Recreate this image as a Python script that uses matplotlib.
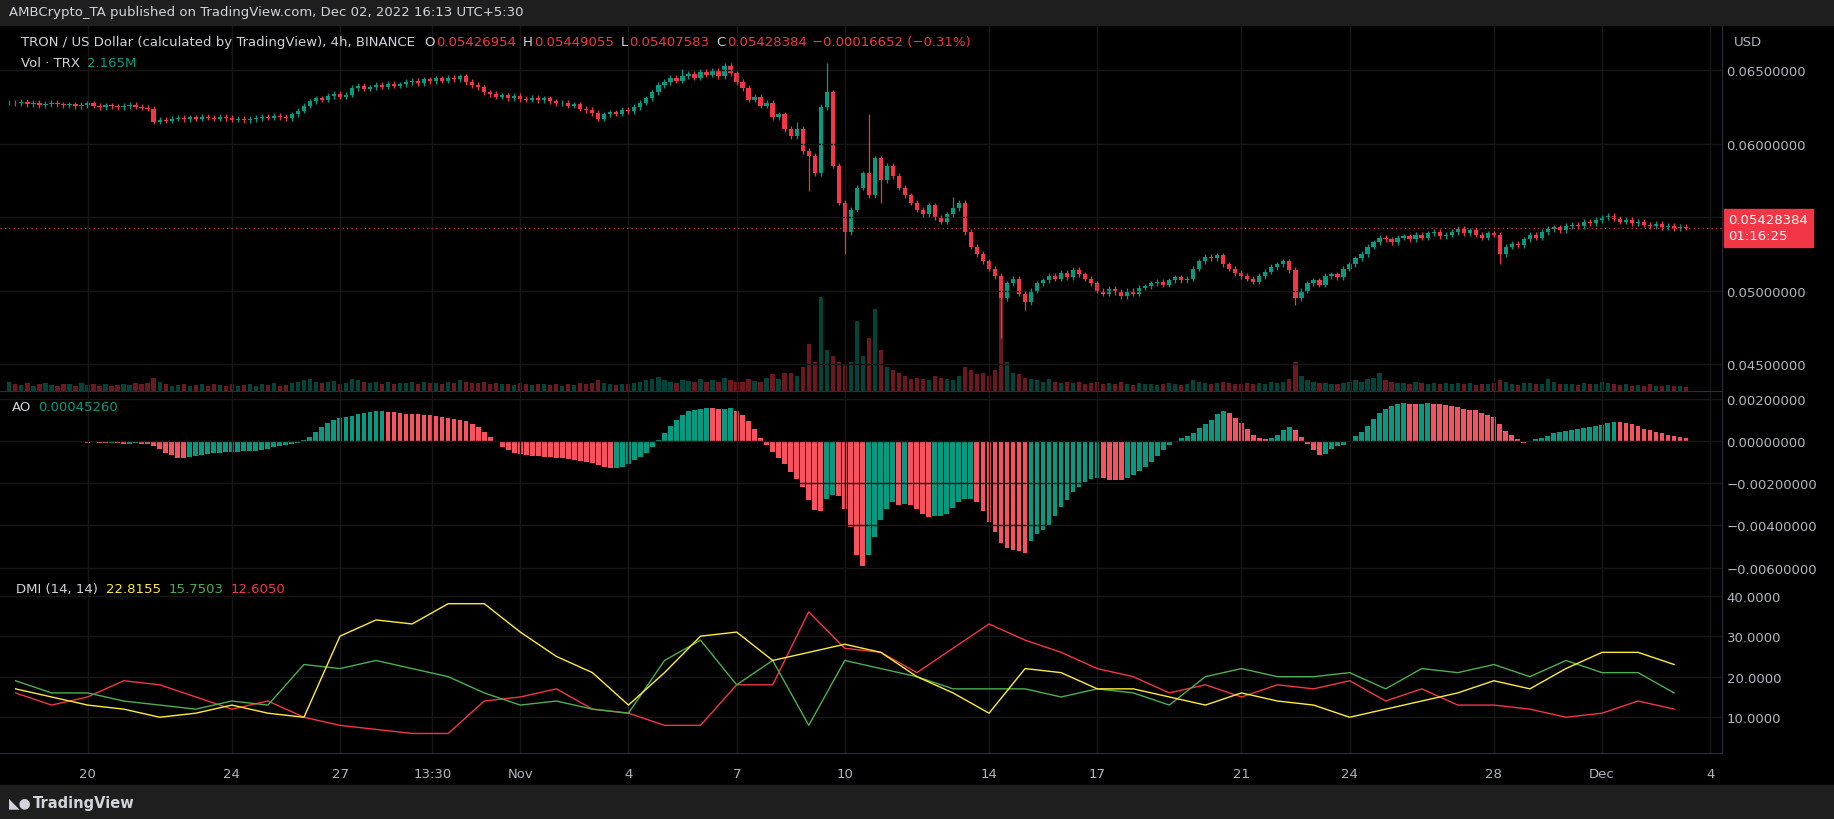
import numpy as np
import pandas as pd
import matplotlib.pyplot as plt
from matplotlib.transforms import blended_transform_factory

# ---------------------------------------------------------
# DATA (4h candles, TRX/USD)
# ---------------------------------------------------------
START_DAY = 16.83          # day offset from Oct 1 of first candle
STEP = 1 / 6               # 4h

CLOSE = [  # units of 1e-5 USD
    6280, 6275, 6285, 6270, 6278, 6265, 6272, 6280, 6268, 6262,
    6270, 6258, 6265, 6275, 6260, 6250, 6262, 6255, 6248, 6258,
    6265, 6252, 6245, 6238,
    6150, 6165, 6158, 6170, 6175, 6168,
    6180, 6172, 6185, 6178, 6170, 6182, 6176, 6165, 6172, 6160,
    6168, 6175, 6185, 6178, 6190, 6182, 6175, 6200, 6225, 6260,
    6290, 6310, 6300, 6325, 6340, 6320, 6335, 6380, 6395, 6375,
    6385, 6400, 6390, 6410, 6395, 6405, 6420, 6430, 6415, 6440,
    6425, 6445, 6430, 6450, 6438, 6460, 6420, 6400, 6385, 6350,
    6340, 6320, 6330, 6310, 6325, 6305, 6300, 6315, 6295, 6310,
    6290, 6275, 6280, 6260, 6270, 6240, 6230, 6210, 6170, 6200,
    6215, 6205, 6230, 6220, 6250, 6280, 6310, 6350, 6400, 6420,
    6450, 6430, 6460, 6475, 6450, 6490, 6470, 6500, 6460, 6530,
    6480, 6420, 6380, 6300, 6320, 6260, 6280, 6180, 6200, 6100,
    6050, 6100, 5950, 5920, 5800, 6250, 6350, 5850, 5600, 5400,
    5550, 5700, 5800, 5650, 5900, 5750, 5850, 5780, 5700, 5650,
    5600, 5550, 5520, 5580, 5500, 5470, 5520, 5560, 5600, 5400,
    5300, 5250, 5200, 5150, 5100, 4950, 5050, 5080, 4980, 4920,
    5000, 5050, 5070, 5100, 5080, 5120, 5090, 5140, 5110, 5080,
    5050, 5000, 4980, 5010, 4990, 4960, 5000, 4980, 5020, 5030,
    5050, 5060, 5040, 5070, 5090, 5070, 5080, 5150, 5200, 5230,
    5220, 5240, 5180, 5150, 5120, 5100, 5080, 5060, 5100, 5130,
    5160, 5180, 5200, 5140, 4950, 5000, 5050, 5070, 5040, 5100,
    5110, 5090, 5150, 5180, 5220, 5250, 5300, 5330, 5360, 5350,
    5330, 5360, 5370, 5350, 5380, 5360, 5390, 5400, 5370, 5380,
    5400, 5420, 5390, 5410, 5380, 5360, 5390, 5380, 5250, 5300,
    5320, 5310, 5350, 5380, 5360, 5400, 5420, 5430, 5410, 5440,
    5450, 5440, 5470, 5460, 5480, 5500, 5510, 5490, 5470, 5480,
    5460, 5470, 5450, 5440, 5455, 5430, 5440, 5425, 5435, 5428,
]
HIGH_SPIKES = {119: 6550, 136: 6550, 143: 6200, 112: 6510, 131: 6150, 157: 5640}
LOW_SPIKES = {133: 5680, 139: 5250, 165: 4680, 214: 4900, 248: 5180, 169: 4870, 145: 5600}
WICK = 18

VOLUME = [
    1.5, 1.2, 1.0, 1.3, 0.9, 1.1, 1.4, 1.0, 0.8, 1.2, 1.1, 0.9, 1.3, 1.0, 1.2, 0.8, 1.1, 0.9, 1.0, 1.2,
    1.0, 1.3, 1.1, 1.4, 2.2, 1.5, 1.1, 0.9, 1.0, 1.2, 0.8, 1.0, 1.1, 0.9, 1.2, 1.0, 0.8, 1.1, 0.9, 1.0,
    1.1, 0.9, 1.2, 1.0, 1.3, 0.9, 1.0, 1.4, 1.6, 1.8, 2.0, 1.5, 1.3, 1.6, 1.7, 1.2, 1.4, 2.0, 1.8, 1.5,
    1.3, 1.6, 1.2, 1.5, 1.1, 1.3, 1.4, 1.6, 1.2, 1.5, 1.3, 1.4, 1.2, 1.6, 1.3, 1.8, 1.6, 1.4, 1.3, 1.5,
    1.2, 1.3, 1.1, 1.2, 1.0, 1.3, 1.1, 1.0, 1.2, 1.1, 1.0, 1.2, 0.9, 1.1, 1.0, 1.3, 1.2, 1.4, 1.8, 1.3,
    1.1, 1.0, 1.2, 1.1, 1.4, 1.6, 1.8, 2.0, 2.4, 1.8, 1.6, 1.4, 1.9, 1.7, 1.5, 2.0, 1.6, 1.8, 1.5, 2.2,
    1.8, 1.6, 1.5, 2.0, 1.7, 1.6, 2.2, 2.8, 2.0, 3.0, 3.0, 2.5, 4.0, 8.0, 5.0, 16.0, 7.0, 6.0, 5.0, 4.5,
    5.0, 12.0, 6.0, 9.0, 14.0, 7.0, 4.0, 3.5, 3.0, 2.5, 2.0, 2.2, 2.0, 1.8, 2.5, 2.2, 2.0, 1.8, 2.5, 4.0,
    3.5, 2.8, 3.0, 2.5, 3.5, 16.0, 5.0, 3.0, 2.8, 2.2, 2.0, 1.8, 1.6, 2.0, 1.5, 1.4, 1.6, 1.3, 1.5, 1.2,
    1.4, 1.5, 1.2, 1.3, 1.1, 1.5, 1.2, 1.0, 1.3, 1.1, 1.2, 1.0, 1.1, 1.3, 1.2, 1.0, 1.1, 1.8, 1.6, 1.4,
    1.2, 1.3, 1.5, 1.3, 1.2, 1.1, 1.4, 1.2, 1.3, 1.1, 1.5, 1.3, 1.6, 2.0, 5.0, 2.5, 1.8, 1.5, 1.3, 1.4,
    1.2, 1.1, 1.4, 1.6, 1.8, 1.5, 2.0, 2.2, 3.0, 1.8, 1.5, 1.3, 1.4, 1.2, 1.5, 1.3, 1.2, 1.4, 1.1, 1.3,
    1.2, 1.4, 1.1, 1.3, 1.0, 1.2, 1.1, 1.3, 1.8, 1.5, 1.2, 1.0, 1.3, 1.4, 1.1, 1.2, 2.0, 1.5, 1.2, 1.1,
    1.2, 1.0, 1.3, 1.1, 1.2, 1.6, 1.4, 1.1, 1.0, 1.2, 0.9, 1.0, 0.8, 1.1, 0.9, 0.8, 1.0, 0.9, 0.8, 0.7,
]

# DMI, sampled once a day from Oct 18 (day 17) to Dec 3 (day 63)
DMI_START, DMI_END = 17, 63
ADX = [17, 15, 13, 12, 10, 11, 13, 11, 10, 30, 34, 33, 38, 38, 31, 25, 21, 13, 21, 30,
       31, 24, 26, 28, 26, 20, 16, 11, 22, 21, 17, 17, 15, 13, 16, 14, 13, 10, 12, 14,
       16, 19, 17, 22, 26, 26, 23]
PDI = [19, 16, 16, 14, 13, 12, 14, 13, 23, 22, 24, 22, 20, 16, 13, 14, 12, 11, 24, 29,
       18, 24, 8, 24, 22, 20, 17, 17, 17, 15, 17, 16, 13, 20, 22, 20, 20, 21, 17, 22,
       21, 23, 20, 24, 21, 21, 16]
MDI = [16, 13, 15, 19, 18, 15, 12, 14, 10, 8, 7, 6, 6, 14, 15, 17, 12, 11, 8, 8,
       18, 18, 36, 27, 26, 21, 27, 33, 29, 26, 22, 20, 16, 18, 15, 18, 17, 19, 14, 17,
       13, 13, 12, 10, 11, 14, 12]

TICK_DAYS = [19, 23, 26, 28.5625, 31, 34, 37, 40, 44, 47, 51, 54, 58, 61, 64]
TICK_LABELS = ["20", "24", "27", "13:30", "Nov", "4", "7", "10", "14", "17", "21", "24", "28", "Dec", "4"]

# ---------------------------------------------------------
# STYLE
# ---------------------------------------------------------
BG = "#000000"
GRID = "#161616"
TXT = "#b2b5be"
WHITE = "#d1d4dc"
UP = "#089981"
DN = "#f23645"
W, H = 1568, 701  # layout reference size
FS = 9.5


def fx(p):
    return p / W


def fy(p):
    return 1 - p / H


def style_axis(ax):
    ax.set_facecolor(BG)
    ax.yaxis.tick_right()
    ax.tick_params(colors=TXT, length=0, labelsize=FS)
    ax.grid(True, color=GRID, linewidth=1)
    for s in ax.spines.values():
        s.set_visible(False)
    ax.spines["right"].set_visible(True)
    ax.spines["right"].set_color("#2a2e39")
    ax.spines["bottom"].set_visible(True)
    ax.spines["bottom"].set_color("#2a2e39")
    ax.set_xlim(16.57, 64.32)
    ax.set_xticks(TICK_DAYS)


fig = plt.figure(figsize=(18.34, 8.2), dpi=100, facecolor=BG)

close = np.array(CLOSE) / 1e5
n = len(close)
x = START_DAY + np.arange(n) * STEP
opn = np.concatenate([[close[0]], close[:-1]])
top = np.maximum(opn, close)
bot = np.minimum(opn, close)
high = top + WICK / 1e5
low = bot - WICK / 1e5
for i, v in HIGH_SPIKES.items():
    high[i] = v / 1e5
for i, v in LOW_SPIKES.items():
    low[i] = v / 1e5
up = close >= opn
cols = np.where(up, UP, DN)

# price panel
axp = fig.add_axes([0, fy(335), fx(1472), (335 - 22) / H])
axv = axp.twinx()
axv.bar(x, VOLUME, width=STEP * 0.7, color=cols, alpha=0.45)
axv.set_ylim(0, 62.6)
axv.axis("off")
style_axis(axp)
axp.set_xticklabels([])
axp.set_zorder(axv.get_zorder() + 1)
axp.patch.set_visible(False)
axp.vlines(x, low, high, colors=cols, linewidth=0.9)
axp.bar(x, np.maximum(top - bot, 2e-6), bottom=bot, width=STEP * 0.7, color=cols)
axp.set_ylim(0.04317, 0.06811)
pt = [0.045, 0.050, 0.055, 0.060, 0.065]
axp.set_yticks(pt)
axp.set_yticklabels([f"{v:.8f}" for v in pt])
axp.axhline(close[-1], color=DN, linestyle=(0, (1, 3)), linewidth=0.8)
tr = blended_transform_factory(axp.transAxes, axp.transData)
axp.text(1.004, close[-1], "0.05428384\n01:16:25", transform=tr, color="white", fontsize=FS,
         va="center", ha="left", linespacing=1.3,
         bbox=dict(boxstyle="square,pad=0.35", fc=DN, ec=DN))

# AO panel
axa = fig.add_axes([0, fy(490), fx(1472), 155 / H])
style_axis(axa)
axa.set_xticklabels([])
med = pd.Series((high + low) / 2)
ao = (med.rolling(5, min_periods=1).mean() - med.rolling(34, min_periods=1).mean()).values
ao_up = np.concatenate([[True], ao[1:] >= ao[:-1]])
axa.bar(x, ao, width=STEP * 0.8, color=np.where(ao_up, UP, "#f7525f"))
axa.set_ylim(-0.00622, 0.00239)
at = [0.002, 0.0, -0.002, -0.004, -0.006]
axa.set_yticks(at)
axa.set_yticklabels([f"{v:.8f}".replace("-", "\u2212") for v in at])

# DMI panel
axd = fig.add_axes([0, fy(645), fx(1472), 155 / H])
style_axis(axd)
xd = np.arange(DMI_START, DMI_END + 1)
axd.plot(xd, MDI, color="#f23645", linewidth=1)
axd.plot(xd, PDI, color="#4caf50", linewidth=1)
axd.plot(xd, ADX, color="#ffeb3b", linewidth=1)
axd.set_ylim(1.06, 45.77)
dt = [10, 20, 30, 40]
axd.set_yticks(dt)
axd.set_yticklabels([f"{v:.4f}" for v in dt])
axd.set_xticklabels(TICK_LABELS)
axd.tick_params(axis="x", pad=10)

# header texts
fig.patches.append(plt.Rectangle((0, fy(22)), 1, 22 / H, transform=fig.transFigure, color="#1e1e1e"))
fig.text(fx(8), fy(11), "AMBCrypto_TA published on TradingView.com, Dec 02, 2022 16:13 UTC+5:30",
         color=WHITE, fontsize=FS, va="center")
fig.text(fx(1482), fy(36), "USD", color=TXT, fontsize=FS, va="center")

renderer = fig.canvas.get_renderer()


def chain(px, py, parts):
    # lay text pieces out left to right, each after the previous one
    xpos = fx(px)
    for s, c, gap in parts:
        t = fig.text(xpos, fy(py), s, color=c, fontsize=FS, va="center")
        bb = t.get_window_extent(renderer).transformed(fig.transFigure.inverted())
        xpos = bb.x1 + gap / W


chain(18, 36, [("TRON / US Dollar (calculated by TradingView), 4h, BINANCE", WHITE, 8),
               ("O", WHITE, 1), ("0.05426954", DN, 6), ("H", WHITE, 1), ("0.05449055", DN, 6),
               ("L", WHITE, 1), ("0.05407583", DN, 6), ("C", WHITE, 1), ("0.05428384", DN, 5),
               ("\u22120.00016652 (\u22120.31%)", DN, 0)])
chain(18, 54, [("Vol \u00b7 TRX", WHITE, 6), ("2.165M", UP, 0)])
chain(10, 348, [("AO", WHITE, 6), ("0.00045260", UP, 0)])
chain(14, 504, [("DMI (14, 14)", WHITE, 7), ("22.8155", "#ffeb3b", 6),
                ("15.7503", "#4caf50", 6), ("12.6050", DN, 0)])

fig.patches.append(plt.Rectangle((0, 0), 1, 29 / H, transform=fig.transFigure, color="#1e1e1e"))
fig.text(fx(8), fy(687), "\u25e3\u25cf", color=WHITE, fontsize=10, va="center", fontweight="bold")
fig.text(fx(28), fy(687), "TradingView", color=WHITE, fontsize=10.5, va="center", fontweight="bold")

fig.savefig("out.png", dpi=100, facecolor=BG)
